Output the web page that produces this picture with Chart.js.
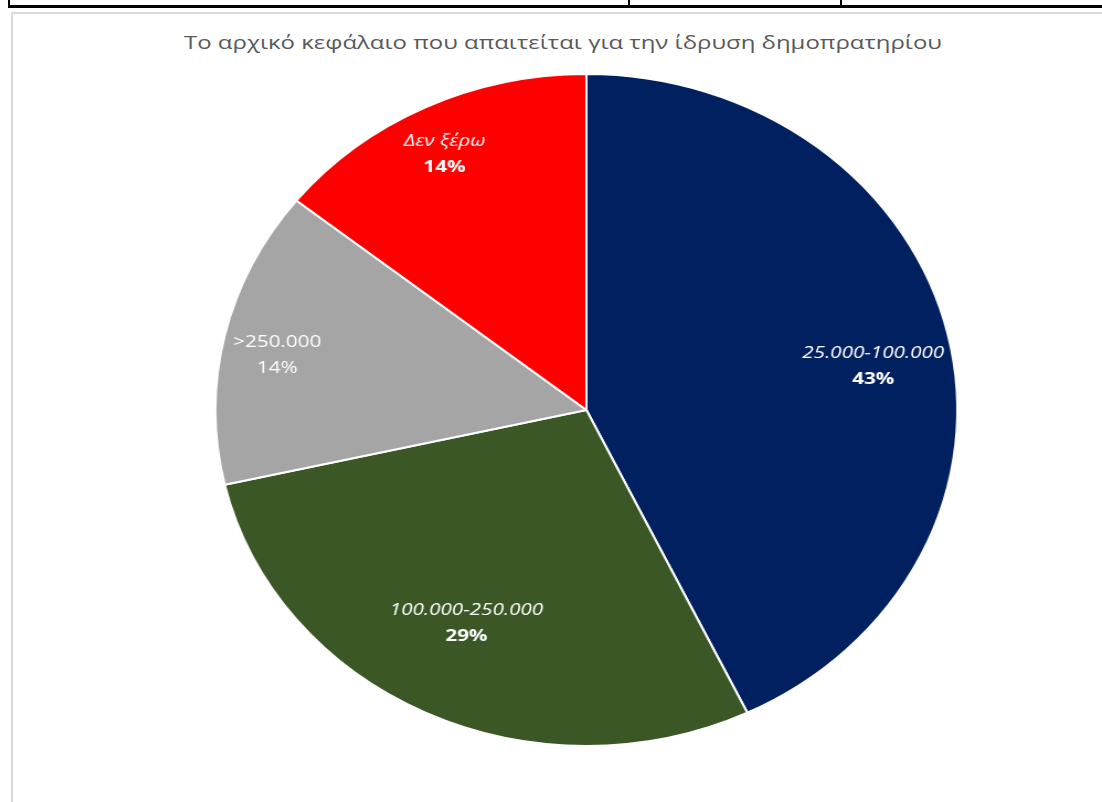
<!DOCTYPE html>
<html>
<head>
<meta charset="utf-8">
<script src="https://cdn.jsdelivr.net/npm/chart.js@4/dist/chart.umd.min.js"></script>
<style>
    body { margin: 0; background: #fff; width: 1102px; height: 802px; overflow: hidden; position: relative; font-family: 'Open Sans', sans-serif; }
    .rule { position: absolute; background: #000; }
    #frame { position: absolute; left: 11px; top: 12px; width: 1200px; height: 900px; border-left: 2px solid #d9d9d9; border-top: 2px solid #d9d9d9; }
    #title { position: absolute; left: 563px; top: 30px; font-size: 18px; color: #595959; white-space: nowrap; transform: translateX(-50%) scaleX(1.33); }
    #wrap { position: absolute; left: 200px; top: 60px; width: 700px; height: 700px; transform: scaleX(1.104); transform-origin: left top; }
</style>
</head>
<body>
<div class="rule" style="left:8px;top:5px;width:1094px;height:3px"></div>
<div class="rule" style="left:8px;top:0;width:2px;height:8px"></div>
<div class="rule" style="left:628px;top:0;width:2px;height:8px"></div>
<div class="rule" style="left:840px;top:0;width:2px;height:8px"></div>
<div id="frame"></div>
<div id="title">Το αρχικό κεφάλαιο που απαιτείται για την ίδρυση δημοπρατηρίου</div>
<div id="wrap"><canvas id="myChart"></canvas></div>
<script>
const categories = ['25.000-100.000', '100.000-250.000', '>250.000', 'Δεν ξέρω'];
const answers = [3, 2, 1, 1];
const sliceColors = ['#002060', '#3a5725', '#a5a5a5', '#ff0000'];

// label placement inside each slice (Excel "best fit"): radius share and small turn in degrees
const labelDepth = [0.784, 0.712, 0.849, 0.851];
const labelTurn = [3.4, 1.3, -1.9, -1.0];

const sliceLabels = {
    id: 'sliceLabels',
    afterDatasetsDraw(chart) {
        const ctx = chart.ctx;
        const arcs = chart.getDatasetMeta(0).data;
        const total = answers.reduce((a, b) => a + b, 0);
        arcs.forEach((arc, i) => {
            const { x, y, startAngle, endAngle, outerRadius } = arc.getProps(['x', 'y', 'startAngle', 'endAngle', 'outerRadius'], true);
            const mid = (startAngle + endAngle) / 2 + labelTurn[i] * Math.PI / 180;
            const px = x + Math.cos(mid) * outerRadius * labelDepth[i];
            const py = y + Math.sin(mid) * outerRadius * labelDepth[i];
            const pct = Math.round(answers[i] / total * 100) + '%';
            const plain = i === 2;
            ctx.save();
            ctx.translate(px, py);
            ctx.scale(1.17, 1);   // the original font runs wider
            ctx.fillStyle = '#ffffff';
            ctx.textAlign = 'center';
            ctx.textBaseline = 'middle';
            ctx.font = (plain ? '' : 'italic ') + '16px "Open Sans"';
            ctx.fillText(categories[i], 0, -13);
            ctx.font = (plain ? '' : 'bold ') + '16px "Open Sans"';
            ctx.fillText(pct, 0, 13);
            ctx.restore();
        });
    }
};

const ctx = document.getElementById('myChart').getContext('2d');
const chart = new Chart(ctx, {
    type: 'pie',
    data: {
        labels: categories,
        datasets: [{
            data: answers,
            backgroundColor: sliceColors,
            borderColor: '#ffffff',
            borderWidth: 2,
            radius: 336
        }]
    },
    options: {
        responsive: true,
        maintainAspectRatio: false,
        animation: false,
        layout: { padding: 0 },
        plugins: {
            legend: { display: false },
            tooltip: { enabled: false }
        }
    },
    plugins: [sliceLabels]
});
</script>
</body>
</html>
